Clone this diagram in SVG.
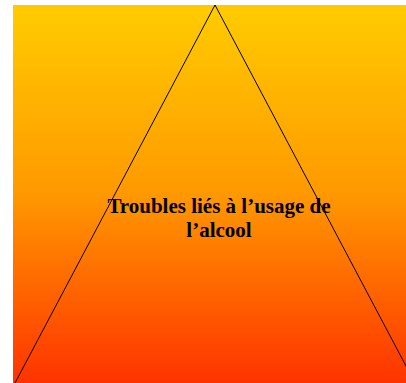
<svg xmlns="http://www.w3.org/2000/svg" width="406" height="383" viewBox="0 0 406 383">
<defs>
<linearGradient id="g" x1="0" y1="0" x2="0" y2="1">
<stop offset="0" stop-color="#FFCC00"/>
<stop offset="0.5" stop-color="#FF9900"/>
<stop offset="1" stop-color="#FF3300"/>
</linearGradient>
<style>
.lbl{font-family:"Liberation Serif",serif;font-weight:bold;font-size:21px;fill:#000;text-anchor:middle}
</style>
</defs>
<rect width="406" height="383" fill="#fff"/>
<g id="background"><rect x="13" y="5" width="393" height="378" fill="url(#g)"/></g>
<g id="triangle"><path d="M215,5 L15,383 M215,5 L415,383" fill="none" stroke="#000" stroke-width="1"/></g>
<g id="label">
<text class="lbl" x="219" y="213">Troubles liés à l’usage de</text>
<text class="lbl" x="219" y="237">l’alcool</text>
</g>
</svg>
